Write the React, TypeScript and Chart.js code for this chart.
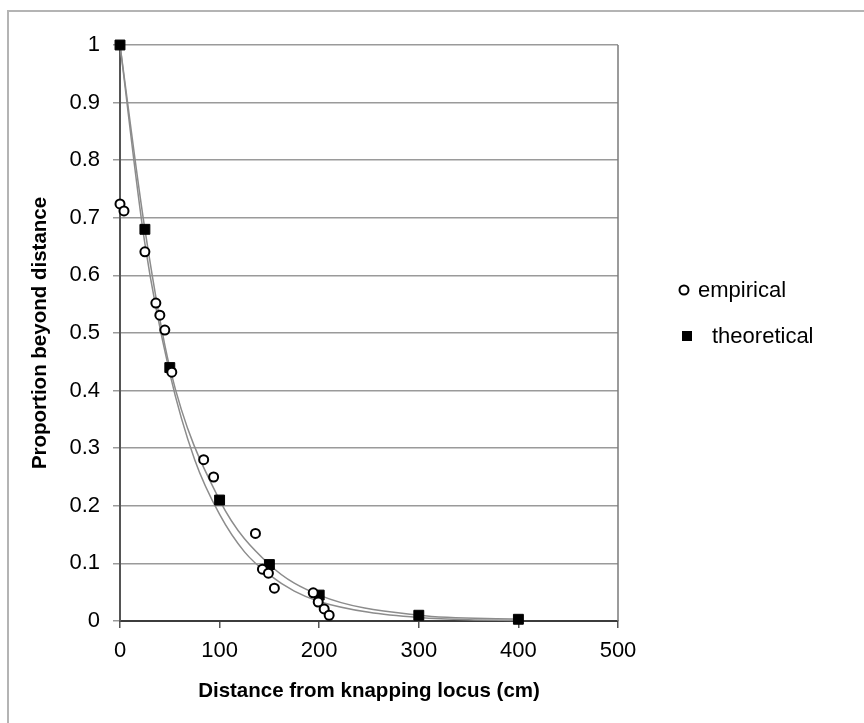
import React, { useEffect, useRef } from "react";
import { Chart, registerables } from "chart.js";

Chart.register(...registerables);

// ---- Data ----
const empiricalX = [0, 4, 25, 36, 40, 45, 52, 84, 94, 136, 143, 149, 155, 194, 199, 205, 210];
const empiricalY = [0.724, 0.712, 0.641, 0.552, 0.531, 0.505, 0.432, 0.28, 0.25, 0.152, 0.09, 0.083, 0.057, 0.049, 0.033, 0.021, 0.01];

const theoreticalX = [0, 25, 50, 100, 150, 200, 300, 400];
const theoreticalY = [1, 0.68, 0.44, 0.21, 0.098, 0.045, 0.01, 0.003];

const fitX = [0, 25, 50, 75, 100, 125, 150, 175, 200, 250, 300, 350, 400];
const fitY = [1, 0.655, 0.43, 0.28, 0.185, 0.12, 0.08, 0.052, 0.034, 0.015, 0.006, 0.002, 0.001];

const xTicks = [0, 100, 200, 300, 400, 500];
const yTicks = [0, 0.1, 0.2, 0.3, 0.4, 0.5, 0.6, 0.7, 0.8, 0.9, 1];

const seriesLabels = ["empirical", "theoretical"];
const xTitle = "Distance from knapping locus (cm)";
const yTitle = "Proportion beyond distance";

const FONT = "'Liberation Sans', Arial, sans-serif";

const toPoints = (xs: number[], ys: number[]) => xs.map((x, i) => ({ x, y: ys[i] }));

const legendPlugin = {
  id: "customLegend",
  afterDraw(chart: any) {
    const ctx = chart.ctx;
    const area = chart.chartArea;
    ctx.save();
    // plot area right border
    ctx.strokeStyle = "#7a7a7a";
    ctx.lineWidth = 1.5;
    ctx.beginPath();
    ctx.moveTo(area.right, area.top);
    ctx.lineTo(area.right, area.bottom);
    ctx.stroke();

    ctx.font = `22px ${FONT}`;
    ctx.textBaseline = "middle";
    ctx.textAlign = "left";
    // empirical
    ctx.beginPath();
    ctx.arc(684, 290, 4.5, 0, Math.PI * 2);
    ctx.fillStyle = "#fff";
    ctx.fill();
    ctx.lineWidth = 2;
    ctx.strokeStyle = "#000";
    ctx.stroke();
    ctx.fillStyle = "#000";
    ctx.fillText(seriesLabels[0], 698, 291);
    // theoretical
    ctx.fillRect(682, 331, 10, 10);
    ctx.fillText(seriesLabels[1], 712, 337);
    ctx.restore();
  },
};

export default function App() {
  const ref = useRef<HTMLCanvasElement>(null);

  useEffect(() => {
    if (!ref.current) return;
    const chart = new Chart(ref.current, {
      type: "scatter",
      data: {
        datasets: [
          {
            label: seriesLabels[0],
            data: toPoints(empiricalX, empiricalY),
            showLine: false,
            pointStyle: "circle",
            pointRadius: 4.5,
            pointBorderWidth: 2,
            pointBorderColor: "#000",
            pointBackgroundColor: "#fff",
            clip: false,
          } as any,
          {
            label: seriesLabels[1],
            data: toPoints(theoreticalX, theoreticalY),
            showLine: true,
            borderColor: "#8c8c8c",
            borderWidth: 1.5,
            cubicInterpolationMode: "monotone",
            pointStyle: "rect",
            pointRadius: 7,
            pointBorderWidth: 1,
            pointBorderColor: "#000",
            pointBackgroundColor: "#000",
            clip: false,
          } as any,
          {
            label: "fit",
            data: toPoints(fitX, fitY),
            showLine: true,
            borderColor: "#8c8c8c",
            borderWidth: 1.5,
            cubicInterpolationMode: "monotone",
            pointRadius: 0,
            clip: false,
          } as any,
        ],
      },
      options: {
        animation: false,
        responsive: false,
        maintainAspectRatio: false,
        layout: { padding: { left: 8, top: 45, right: 246, bottom: 0 } },
        plugins: { legend: { display: false }, tooltip: { enabled: false } },
        scales: {
          x: {
            type: "linear",
            min: 0,
            max: 500,
            afterBuildTicks: (s: any) => {
              s.ticks = xTicks.map((v) => ({ value: v }));
            },
            afterFit: (s: any) => {
              s.height = 102;
            },
            ticks: {
              color: "#000",
              font: { size: 22, family: FONT },
              padding: 10,
              maxRotation: 0,
            },
            grid: {
              drawOnChartArea: false,
              drawTicks: true,
              tickLength: 7,
              color: "#555",
              lineWidth: 1.5,
            },
            border: { display: true, color: "#3c3c3c", width: 2 },
            title: {
              display: true,
              text: xTitle,
              color: "#000",
              font: { size: 20.5, weight: "bold", family: FONT },
              padding: { top: 0, bottom: 19 },
            },
          },
          y: {
            type: "linear",
            min: 0,
            max: 1,
            afterBuildTicks: (s: any) => {
              s.ticks = yTicks.map((v) => ({ value: v }));
            },
            afterFit: (s: any) => {
              s.width = 112;
            },
            ticks: {
              color: "#000",
              font: { size: 22, family: FONT },
              padding: 13,
              callback: (v: any) => String(Number(Number(v).toFixed(1))),
            },
            grid: {
              color: "#9a9a9a",
              lineWidth: 1.5,
              drawTicks: true,
              tickLength: 7,
            },
            border: { display: true, color: "#555", width: 2 },
            title: {
              display: true,
              text: yTitle,
              color: "#000",
              font: { size: 20.5, weight: "bold", family: FONT },
              padding: { top: 20, bottom: 0 },
            },
          },
        },
      },
      plugins: [legendPlugin],
    });
    return () => chart.destroy();
  }, []);

  return (
    <div
      style={{
        position: "fixed",
        left: 0,
        top: 0,
        width: 864,
        height: 723,
        overflow: "hidden",
        background: "#fff",
      }}
    >
      <div
        style={{
          position: "absolute",
          left: 7,
          top: 10,
          width: 900,
          height: 800,
          border: "2px solid #b4b4b4",
        }}
      />
      <canvas
        ref={ref}
        width={864}
        height={723}
        style={{ position: "absolute", left: 0, top: 0, width: 864, height: 723 }}
      />
    </div>
  );
}
